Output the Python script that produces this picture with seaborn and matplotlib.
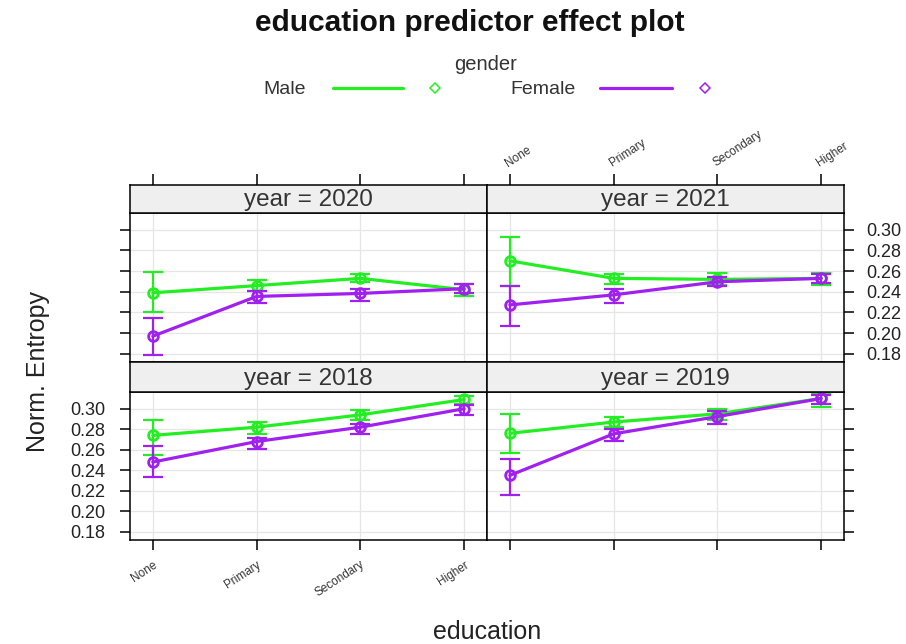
import numpy as np
import pandas as pd
import matplotlib
matplotlib.use('Agg')
import matplotlib.pyplot as plt
import seaborn as sns
from matplotlib.lines import Line2D

# categories
education = ['None', 'Primary', 'Secondary', 'Higher']
genders = ['Male', 'Female']
years = [2020, 2021, 2018, 2019]   # panel order: top-left, top-right, bottom-left, bottom-right
yticks = [0.18, 0.20, 0.22, 0.24, 0.26, 0.28, 0.30]

# fitted values and confidence limits
male_fit = {2018: [0.274, 0.282, 0.294, 0.309],
            2019: [0.276, 0.287, 0.295, 0.310],
            2020: [0.239, 0.246, 0.253, 0.242],
            2021: [0.270, 0.253, 0.252, 0.253]}
male_lo = {2018: [0.255, 0.275, 0.289, 0.3045],
           2019: [0.257, 0.2826, 0.289, 0.302],
           2020: [0.2205, 0.241, 0.249, 0.236],
           2021: [0.2458, 0.2475, 0.2465, 0.2465]}
male_hi = {2018: [0.289, 0.287, 0.299, 0.3125],
           2019: [0.295, 0.2917, 0.300, 0.314],
           2020: [0.2588, 0.2513, 0.2572, 0.2475],
           2021: [0.2935, 0.2575, 0.2578, 0.2578]}
female_fit = {2018: [0.248, 0.268, 0.282, 0.300],
              2019: [0.235, 0.2755, 0.2923, 0.310],
              2020: [0.197, 0.2355, 0.2384, 0.243],
              2021: [0.2273, 0.237, 0.2497, 0.253]}
female_lo = {2018: [0.233, 0.261, 0.275, 0.294],
             2019: [0.216, 0.269, 0.285, 0.3045],
             2020: [0.1783, 0.2287, 0.2312, 0.2385],
             2021: [0.2069, 0.2287, 0.2452, 0.2485]}
female_hi = {2018: [0.264, 0.2717, 0.285, 0.3036],
             2019: [0.251, 0.2804, 0.298, 0.3135],
             2020: [0.215, 0.2403, 0.2426, 0.2475],
             2021: [0.2458, 0.2426, 0.254, 0.2572]}

colors = {'Male': '#22EE22', 'Female': '#A020F0'}

rows = []
for yr in years:
    for g, fit, lo, hi in [('Male', male_fit, male_lo, male_hi),
                           ('Female', female_fit, female_lo, female_hi)]:
        for i, ed in enumerate(education):
            rows.append(dict(year=yr, gender=g, education=ed, pos=i,
                             fit=fit[yr][i], lower=lo[yr][i], upper=hi[yr][i]))
df = pd.DataFrame(rows)

sns.set_style('white')
plt.rcParams['font.family'] = ['Liberation Sans', 'DejaVu Sans']

W, H = 906, 644
fig = plt.figure(figsize=(W / 100, H / 100), dpi=100)

def rect(x0, y0, x1, y1):
    return [x0 / W, 1 - y1 / H, (x1 - x0) / W, (y1 - y0) / H]

panel_px = {2020: (130, 213, 487, 362), 2021: (487, 213, 844, 362),
            2018: (130, 392, 487, 540), 2019: (487, 392, 844, 540)}
strip_px = {2020: (130, 185, 487, 213), 2021: (487, 185, 844, 213),
            2018: (130, 362, 487, 392), 2019: (487, 362, 844, 392)}

xlim = (-0.22, 3.22)
ylim = (0.172, 0.3163)

for yr in years:
    ax = fig.add_axes(rect(*panel_px[yr]))
    sub = df[df.year == yr]
    for g in genders:
        d = sub[sub.gender == g]
        c = colors[g]
        sns.lineplot(data=d, x='pos', y='fit', color=c, linewidth=2.3,
                     marker='o', markersize=7, markerfacecolor='none',
                     markeredgecolor=c, markeredgewidth=2, ax=ax, zorder=3)
        ax.errorbar(d.pos, d.fit, yerr=[d.fit - d.lower, d.upper - d.fit],
                    fmt='none', ecolor=c, elinewidth=1.6, capsize=7,
                    capthick=1.6, zorder=3)
    ax.set_xlim(*xlim)
    ax.set_ylim(*ylim)
    ax.set_xticks(range(len(education)))
    ax.set_yticks(yticks)
    ax.set_xlabel('')
    ax.set_ylabel('')
    ax.grid(True, color='#E6E6E6', linewidth=0.9)
    ax.set_axisbelow(True)
    for s in ax.spines.values():
        s.set_color('black')
        s.set_linewidth(1.1)
    ax.tick_params(direction='out', length=7, width=1.1, color='black',
                   labelsize=13, labelcolor='#222222',
                   top=False, bottom=False, left=False, right=False,
                   labeltop=False, labelbottom=False, labelleft=False, labelright=False)
    if yr == 2020:
        ax.tick_params(axis='y', left=True)
    elif yr == 2021:
        ax.tick_params(axis='y', right=True, labelright=True, pad=9)
    elif yr == 2018:
        ax.tick_params(axis='y', left=True, labelleft=True, pad=11)
        ax.tick_params(axis='x', bottom=True, labelbottom=True, pad=6.5)
        ax.set_xticklabels(education, rotation=33, ha='right',
                           rotation_mode='anchor', fontsize=8.5, color='#333333')
    else:
        ax.tick_params(axis='y', right=True)
        ax.tick_params(axis='x', bottom=True)
    ax.set_yticklabels([f'{v:.2f}' for v in yticks])

    # strip
    sx = fig.add_axes(rect(*strip_px[yr]))
    sx.set_facecolor('#EFEFEF')
    sx.set_xlim(*xlim)
    sx.set_yticks([])
    sx.set_xticks(range(len(education)))
    for s in sx.spines.values():
        s.set_color('black')
        s.set_linewidth(1.1)
    sx.text(0.5, 0.45, f'year = {yr}', transform=sx.transAxes, ha='center',
            va='center', fontsize=17.5, color='#333333')
    sx.tick_params(direction='out', length=8, width=1.1, color='black',
                   bottom=False, labelbottom=False, top=False, labeltop=False)
    if yr in (2020, 2021):
        sx.tick_params(top=True)
    if yr == 2021:
        sx.tick_params(labeltop=True)
        sx.set_xticklabels(education, rotation=33, ha='left',
                           rotation_mode='anchor', fontsize=8.5, color='#333333')

# titles and labels
fig.text(470 / W, 1 - 23 / H, 'education predictor effect plot', ha='center',
         va='center', fontsize=21.5, fontweight='bold', color='#111111')
fig.text(38 / W, 1 - 371 / H, 'Norm. Entropy', rotation=90, ha='center',
         va='center', fontsize=18, color='#222222')
fig.text(487 / W, 1 - 632 / H, 'education', ha='center', va='center',
         fontsize=18, color='#222222')

# legend
fig.text(486 / W, 1 - 65 / H, 'gender', ha='center', va='center',
         fontsize=14.5, color='#333333')
for g, tx, l0, l1, mx in [('Male', 263, 333, 403, 435),
                          ('Female', 510, 600, 672, 705)]:
    fig.text(tx / W, 1 - 90 / H, g, ha='left', va='center', fontsize=14,
             color='#333333')
    fig.add_artist(Line2D([l0 / W, l1 / W], [1 - 88 / H, 1 - 88 / H],
                          color=colors[g], linewidth=2.3, transform=fig.transFigure))
    fig.add_artist(Line2D([mx / W], [1 - 88 / H], color=colors[g], marker='D',
                          markersize=5, markerfacecolor='none', markeredgewidth=1.1,
                          linestyle='none', transform=fig.transFigure))

fig.savefig('out.png', dpi=100)
